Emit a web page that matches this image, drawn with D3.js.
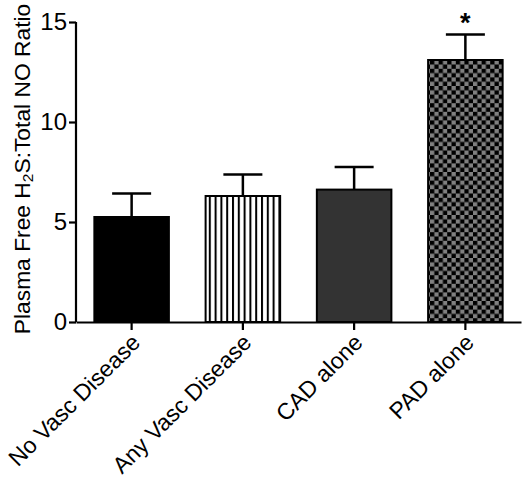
<!DOCTYPE html>
<html><head><meta charset="utf-8">
<script src="https://cdn.jsdelivr.net/npm/d3@7"></script>
<style>body{margin:0;background:#fff}svg{display:block}</style>
</head><body>
<script>
const categories = ["No Vasc Disease", "Any Vasc Disease", "CAD alone", "PAD alone"];
const means = [5.25, 6.3, 6.62, 13.1];
const errors = [1.18, 1.08, 1.13, 1.27];
const yTicks = [0, 5, 10, 15];
const significance = ["", "", "", "*"];

const W = 531, H = 486;
const FONT = "Liberation Sans, Arial, sans-serif";
const svg = d3.select("body").append("svg").attr("width", W).attr("height", H);
const defs = svg.append("defs");

const stripes = defs.append("pattern").attr("id","stripes").attr("patternUnits","userSpaceOnUse")
  .attr("width",5.8).attr("height",10);
stripes.append("rect").attr("width",5.8).attr("height",10).attr("fill","#fff");
stripes.append("rect").attr("x",0).attr("width",2).attr("height",10).attr("fill","#000");

const checker = defs.append("pattern").attr("id","checker").attr("patternUnits","userSpaceOnUse")
  .attr("width",8.6).attr("height",8.6);
checker.append("rect").attr("width",8.6).attr("height",8.6).attr("fill","#000");
checker.append("rect").attr("x",4.3).attr("y",0).attr("width",4.3).attr("height",4.3).attr("fill","#808080");
checker.append("rect").attr("x",0).attr("y",4.3).attr("width",4.3).attr("height",4.3).attr("fill","#808080");

const fills = ["#000", "url(#stripes)", "#333", "url(#checker)"];

const x = d3.scaleBand().domain(categories).range([76, 521]).paddingInner(0.33).paddingOuter(0.165);
const y = d3.scaleLinear().domain([0, 15]).range([322, 22]);

const g = svg.append("g");

g.selectAll("rect.bar").data(categories).join("rect").attr("class","bar")
  .attr("x", d => x(d)).attr("width", x.bandwidth())
  .attr("y", (d,i) => y(means[i])).attr("height", (d,i) => y(0) - y(means[i]))
  .attr("fill", (d,i) => fills[i]).attr("stroke","#000").attr("stroke-width",2);

const cx = d => x(d) + x.bandwidth()/2;
g.selectAll("line.err").data(categories).join("line").attr("class","err")
  .attr("x1", cx).attr("x2", cx)
  .attr("y1", (d,i) => y(means[i])).attr("y2", (d,i) => y(means[i]+errors[i]))
  .attr("stroke","#000").attr("stroke-width",2.5);
g.selectAll("line.cap").data(categories).join("line").attr("class","cap")
  .attr("x1", d => cx(d)-19.5).attr("x2", d => cx(d)+19.5)
  .attr("y1", (d,i) => y(means[i]+errors[i])).attr("y2", (d,i) => y(means[i]+errors[i]))
  .attr("stroke","#000").attr("stroke-width",2.5);
g.selectAll("text.sig").data(categories).join("text").attr("class","sig")
  .attr("x", cx).attr("y", (d,i) => y(means[i]+errors[i]) - 3)
  .attr("text-anchor","middle").attr("font-family",FONT)
  .attr("font-size",27).attr("font-weight","bold").text((d,i) => significance[i]);

const yAxis = svg.append("g").attr("transform","translate(76,0)")
  .call(d3.axisLeft(y).tickValues(yTicks).tickSize(7).tickPadding(2).tickFormat(d3.format("d")));
yAxis.select(".domain").attr("d", `M0,${y(15)}V${y(0)}`).attr("stroke-width",2.2);
yAxis.selectAll(".tick line").attr("stroke-width",2.2);
yAxis.selectAll("text").attr("font-family",FONT).attr("font-size",24).attr("fill","#000");

const xAxis = svg.append("g").attr("transform",`translate(0,${y(0)})`)
  .call(d3.axisBottom(x).tickSize(8).tickSizeOuter(0));
xAxis.select(".domain").attr("stroke-width",2.2);
xAxis.selectAll(".tick line").attr("stroke-width",2.2);
xAxis.selectAll("text").attr("font-family",FONT).attr("font-size",23).attr("fill","#000")
  .attr("text-anchor","end").attr("dy",null).attr("y",null)
  .attr("transform","translate(10,22) rotate(-45)");

const yl = svg.append("text").attr("transform","translate(30,169) rotate(-90)")
  .attr("text-anchor","middle").attr("font-family",FONT)
  .attr("font-size",22.8).attr("fill","#000");
yl.append("tspan").text("Plasma Free H");
yl.append("tspan").attr("font-size",15.5).attr("dy",3).text("2");
yl.append("tspan").attr("dy",-3).text("S:Total NO Ratio");
</script>
</body></html>
